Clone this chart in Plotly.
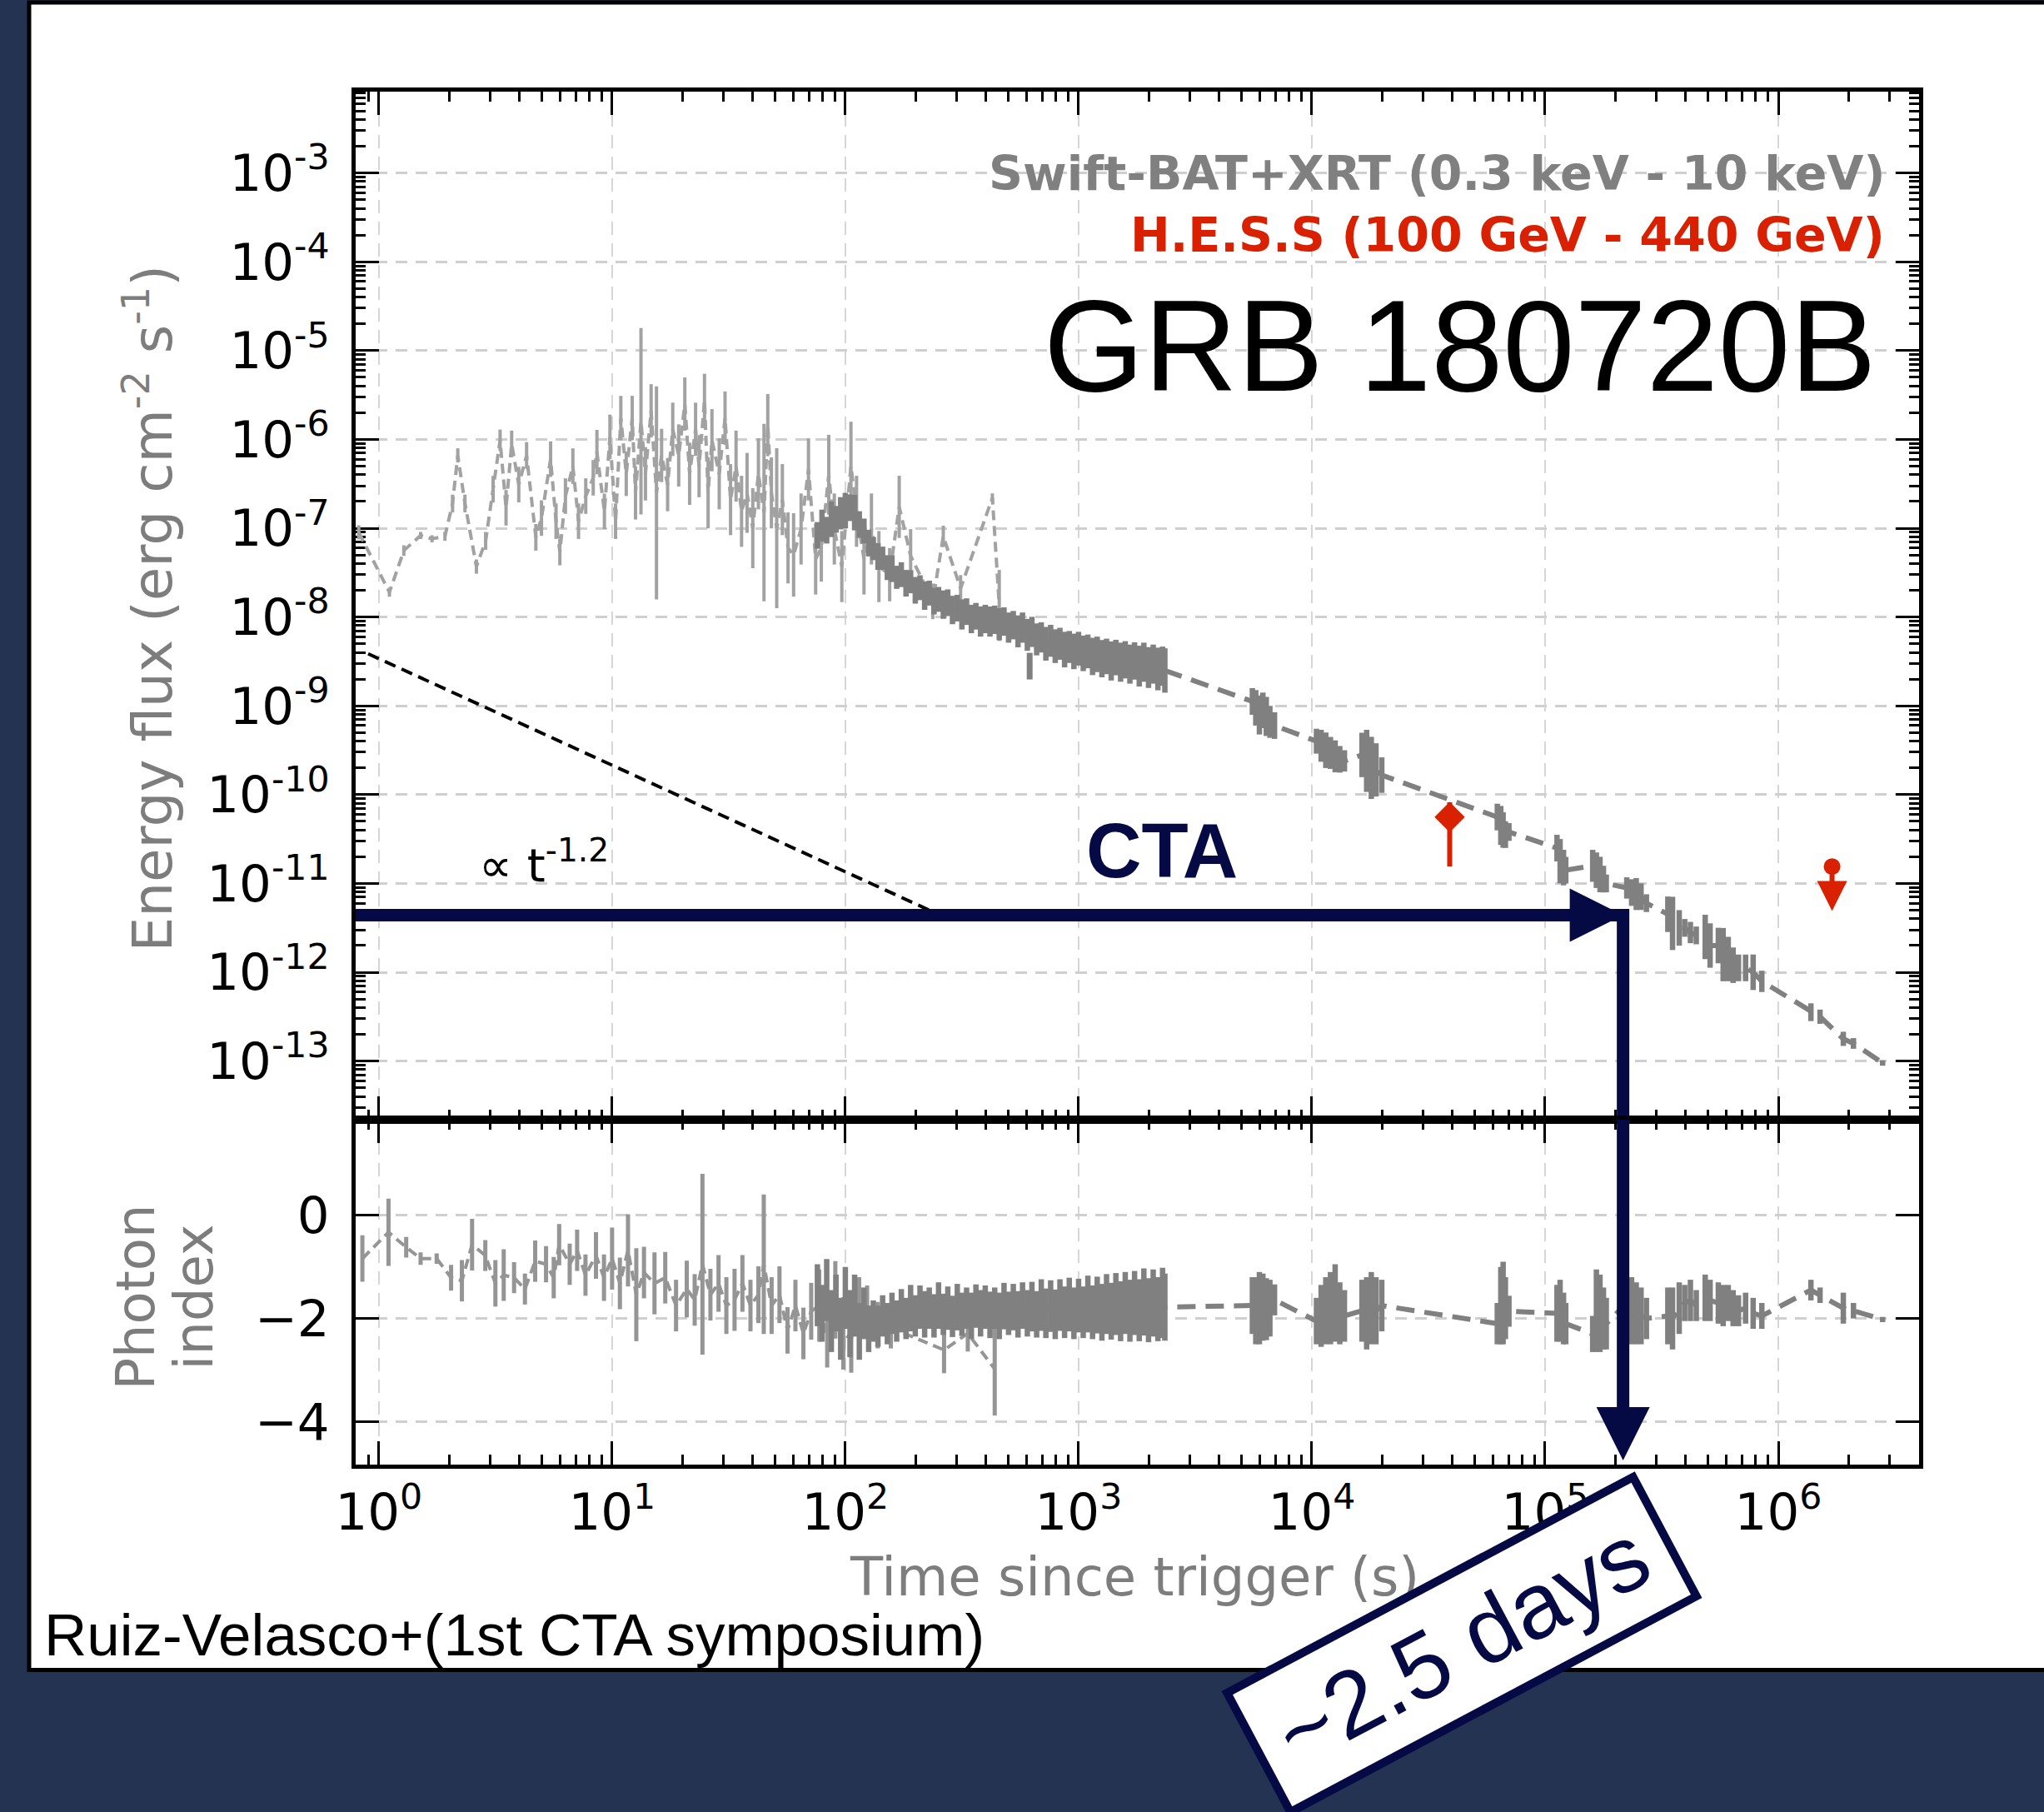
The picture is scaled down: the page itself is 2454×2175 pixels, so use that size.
import plotly.graph_objects as go

# ---------------- Swift-BAT (extrapolated to 0.3-10 keV) ----------------
bat_t = [0.82, 1.11, 1.28, 1.51, 1.69, 1.92, 2.07, 2.18, 2.34, 2.62,
         2.87, 3.09, 3.31, 3.51, 3.71, 3.98, 4.30, 4.71, 4.98, 5.45,
         5.75, 5.97, 6.31, 6.79, 7.18, 7.71, 8.30, 8.61, 9.27, 9.79,
         10.35, 10.9, 11.5, 12.2, 12.6, 13.3, 13.9, 14.7, 15.5, 16.3,
         17.3, 18.2, 19.3, 20.5, 21.5, 22.8, 23.6, 24.9, 25.8, 26.8,
         28.8, 30.5, 32.2, 34.0, 35.9, 37.9, 40.1, 42.4, 44.8, 46.5,
         48.2, 50.8, 53.7, 56.8, 60.0, 64.6, 69.5, 74.6, 78.9, 84.9,
         89.7, 96.6, 105.7, 111.7, 120.2, 129.4, 139.3, 154.9, 170.2, 190.5,
         237, 263, 312, 427, 457]
bat_flux = [9.0e-8, 1.9e-8, 5.6e-8, 8.3e-8, 7.6e-8, 8.1e-8, 1.9e-7, 6.6e-7, 1.9e-7, 3.7e-8,
            7.2e-8, 2.75e-7, 9.8e-7, 1.7e-7, 8.9e-7, 3.1e-7, 6.6e-7, 7.9e-8, 1.3e-7, 6.0e-7,
            1.2e-7, 5.4e-8, 2.3e-7, 5.0e-7, 1.2e-7, 2.3e-7, 3.7e-7, 7.2e-7, 1.55e-7, 1.07e-6,
            1.2e-7, 1.74e-6, 4.1e-7, 1.74e-6, 2.5e-7, 1.6e-6, 4.1e-7, 2.1e-6, 2.5e-7, 6.6e-7,
            3.1e-7, 1.3e-6, 6.6e-7, 2.5e-6, 4.1e-7, 1.3e-6, 5.0e-7, 2.75e-6, 2.5e-7, 9.8e-7,
            4.1e-7, 1.74e-6, 2.1e-7, 5.0e-7, 1.55e-7, 2.5e-7, 1.0e-7, 4.1e-7, 1.5e-7, 1.45e-6,
            2.5e-7, 1.0e-7, 2.1e-7, 6.0e-8, 5.0e-8, 9.8e-8, 4.6e-7, 4.5e-8, 6.0e-8, 4.0e-7,
            9.8e-8, 3.7e-8, 5.0e-7, 1.55e-7, 4.5e-8, 9.8e-8, 3.7e-8, 3.0e-8, 1.74e-7, 4.9e-8,
            1.5e-8, 8.1e-8, 2.1e-8, 2.2e-7, 1.35e-8]
bat_flux_err_dex = [0.08, 0.05, 0.06, 0.04, 0.04, 0.05, 0.10, 0.08, 0.10, 0.08,
                    0.10, 0.15, 0.12, 0.20, 0.15, 0.20, 0.15, 0.15, 0.20, 0.20,
                    0.20, 0.15, 0.20, 0.20, 0.20, 0.20, 0.20, 0.25, 0.20, 0.25,
                    0.20, 0.25, 0.25, 0.25, 0.30, 1.05, 0.30, 0.30, 1.20, 0.30,
                    0.30, 0.30, 0.35, 0.30, 0.35, 0.30, 0.35, 0.30, 0.40, 0.35,
                    0.40, 0.30, 0.40, 0.40, 0.40, 0.45, 0.45, 0.40, 1.00, 0.35,
                    0.40, 0.90, 0.40, 0.40, 0.47, 0.40, 0.35, 0.40, 0.38, 0.45,
                    0.40, 0.40, 0.50, 0.40, 0.40, 0.40, 0.40, 0.30, 0.35, 0.30,
                    0.20, 0.12, 0.15, 0.05, 0.40]

bat_index_t = [0.85, 1.10, 1.31, 1.51, 1.77, 2.04, 2.27, 2.51, 2.86, 3.16,
               3.43, 3.80, 4.23, 4.68, 5.21, 5.62, 5.93, 6.58, 7.08, 7.69,
               8.53, 9.23, 10.0, 10.8, 11.7, 12.7, 13.7, 15.2, 16.9, 18.8,
               20.9, 22.6, 24.4, 26.4, 28.6, 30.9, 33.5, 36.2, 39.2, 42.4,
               44.7, 48.3, 52.2, 56.5, 61.1, 66.1, 71.4, 77.3, 83.6, 90.6,
               98.0, 106, 114.6, 124, 137.7, 156.7, 265, 335, 437]
bat_index = [-0.84, -0.33, -0.62, -0.84, -0.84, -1.21, -1.27, -0.57, -0.78, -1.32,
             -1.16, -1.21, -1.43, -0.89, -0.95, -1.21, -0.57, -0.95, -0.68, -1.16,
             -0.78, -1.21, -0.84, -1.32, -0.68, -1.54, -1.11, -1.32, -1.21, -1.75,
             -1.43, -1.64, -0.95, -1.54, -1.32, -1.75, -1.64, -1.32, -1.75, -1.54,
             -0.95, -1.75, -1.54, -2.23, -1.75, -2.29, -1.86, -1.75, -2.40, -1.64,
             -2.29, -2.40, -1.75, -1.86, -2.13, -2.18, -2.61, -2.29, -2.98]
bat_index_err = [0.45, 0.65, 0.20, 0.12, 0.10, 0.25, 0.40, 0.50, 0.30, 0.45,
                 0.50, 0.30, 0.30, 0.40, 0.35, 0.40, 0.40, 0.40, 0.40, 0.40,
                 0.45, 0.45, 0.60, 0.50, 0.70, 0.90, 0.50, 0.60, 0.50, 0.50,
                 0.55, 0.50, 1.75, 0.50, 0.55, 0.55, 0.60, 0.55, 0.50, 0.55,
                 1.35, 0.55, 0.55, 0.45, 0.50, 0.50, 0.55, 0.70, 0.55, 0.75,
                 0.70, 0.65, 0.55, 0.50, 0.45, 0.40, 0.45, 0.35, 0.90]

# ---------------- Swift-XRT (0.3-10 keV) ----------------
xrt_t = [75.9, 79.4, 83.2, 87.1, 91.2, 95.5, 100, 104.7, 109.6, 114.8,
         120.2, 125.9, 131.8, 138, 144.5, 151.4, 158.5, 166, 173.8, 182,
         190.5, 199.5, 209, 218.8, 229, 240, 251, 263, 275, 288,
         302, 316, 331, 347, 363, 380, 398, 417, 437, 457,
         479, 501, 525, 550, 575, 603, 631, 661, 692, 724,
         759, 794, 832, 871, 912, 955, 1000, 1047, 1096, 1148,
         1202, 1259, 1318, 1380, 1445, 1514, 1585, 1660, 1738, 1820,
         1905, 1995, 2089, 2188, 2291, 2344,
         5560, 5750, 5960, 6170, 6380, 6610, 6920,
         10470, 10960, 11480, 12020, 12590, 13180, 13800,
         16410, 17180, 17990, 18840, 19950,
         62400, 64600, 66100, 67600, 70000,
         112500, 116000, 120000, 122700,
         160000, 166000, 172000, 178000, 183000,
         224000, 235000, 246000, 258000, 272000,
         336000, 352000, 376000,
         397000, 420000, 445000,
         486000, 510000,
         553000, 580000, 610000, 640000, 675000,
         724000, 780000, 850000,
         1380000, 1510000,
         1900000, 2100000,
         2800000]
xrt_flux = [8.3e-8, 1.07e-7, 9.5e-8, 1.26e-7, 1.26e-7, 1.48e-7, 1.58e-7, 1.7e-7, 1.5e-7, 1.10e-7,
            9.3e-8, 6.8e-8, 5.9e-8, 4.8e-8, 4.6e-8, 3.6e-8, 3.5e-8, 2.8e-8, 3.0e-8, 2.4e-8,
            2.5e-8, 2.0e-8, 2.14e-8, 1.74e-8, 1.86e-8, 1.51e-8, 1.58e-8, 1.38e-8, 1.45e-8, 1.20e-8,
            1.26e-8, 1.07e-8, 1.15e-8, 9.5e-9, 1.02e-8, 8.9e-9, 9.5e-9, 8.9e-9, 9.3e-9, 8.3e-9,
            8.9e-9, 7.6e-9, 8.1e-9, 6.9e-9, 7.6e-9, 6.3e-9, 6.8e-9, 5.6e-9, 5.9e-9, 5.0e-9,
            5.4e-9, 4.7e-9, 5.0e-9, 4.3e-9, 4.6e-9, 4.1e-9, 4.4e-9, 3.9e-9, 4.1e-9, 3.6e-9,
            3.8e-9, 3.4e-9, 3.6e-9, 3.2e-9, 3.5e-9, 3.1e-9, 3.3e-9, 2.95e-9, 3.2e-9, 2.8e-9,
            3.1e-9, 2.7e-9, 2.95e-9, 2.6e-9, 2.8e-9, 2.5e-9,
            1.12e-9, 9.5e-10, 7.9e-10, 8.9e-10, 7.6e-10, 6.6e-10, 6.0e-10,
            4.0e-10, 3.55e-10, 3.16e-10, 2.95e-10, 2.7e-10, 2.5e-10, 2.4e-10,
            2.8e-10, 2.4e-10, 2.0e-10, 1.9e-10, 1.66e-10,
            5.6e-11, 4.5e-11, 4.0e-11, 3.55e-11, 3.8e-11,
            2.5e-11, 1.78e-11, 1.51e-11, 1.41e-11,
            1.58e-11, 1.41e-11, 1.26e-11, 1.12e-11, 1.0e-11,
            8.9e-12, 7.9e-12, 7.6e-12, 7.1e-12, 6.0e-12,
            4.5e-12, 3.55e-12, 3.16e-12,
            3.16e-12, 2.8e-12, 2.6e-12,
            2.5e-12, 2.0e-12,
            2.0e-12, 1.58e-12, 1.41e-12, 1.2e-12, 1.12e-12,
            1.12e-12, 1.0e-12, 7.9e-13,
            3.55e-13, 3.16e-13,
            1.78e-13, 1.58e-13,
            9.5e-14]
xrt_flux_err_dex = [0.15, 0.18, 0.15, 0.20, 0.15, 0.18, 0.20, 0.15, 0.20, 0.15,
                    0.14, 0.15, 0.13, 0.15, 0.13, 0.14, 0.15, 0.13, 0.14, 0.15,
                    0.13, 0.15, 0.14, 0.16, 0.14, 0.15, 0.14, 0.16, 0.15, 0.16,
                    0.15, 0.17, 0.15, 0.16, 0.15, 0.17, 0.16, 0.17, 0.16, 0.18,
                    0.16, 0.17, 0.16, 0.18, 0.17, 0.18, 0.17, 0.18, 0.17, 0.19,
                    0.18, 0.19, 0.18, 0.20, 0.18, 0.20, 0.19, 0.20, 0.19, 0.21,
                    0.20, 0.21, 0.20, 0.22, 0.20, 0.22, 0.21, 0.22, 0.21, 0.23,
                    0.22, 0.23, 0.22, 0.24, 0.22, 0.25,
                    0.15, 0.20, 0.22, 0.20, 0.22, 0.18, 0.15,
                    0.14, 0.18, 0.20, 0.18, 0.18, 0.15, 0.12,
                    0.25, 0.35, 0.35, 0.30, 0.20,
                    0.15, 0.22, 0.20, 0.15, 0.10,
                    0.15, 0.25, 0.20, 0.15,
                    0.18, 0.20, 0.20, 0.15, 0.10,
                    0.12, 0.15, 0.18, 0.15, 0.10,
                    0.20, 0.30, 0.20,
                    0.10, 0.12, 0.10,
                    0.25, 0.25,
                    0.20, 0.30, 0.25, 0.20, 0.15,
                    0.15, 0.20, 0.12,
                    0.10, 0.08,
                    0.08, 0.06,
                    0.03]
xrt_index = [-1.55, -1.90, -1.45, -2.05, -1.70, -2.20, -1.60, -2.10, -1.75, -2.25,
             -1.90, -2.20, -2.05, -2.15, -1.95, -2.10, -1.90, -2.05, -1.85, -2.00,
             -1.80, -1.95, -1.78, -1.92, -1.80, -1.95, -1.75, -1.92, -1.80, -1.96,
             -1.78, -1.92, -1.80, -1.95, -1.76, -1.90, -1.78, -1.93, -1.80, -1.95,
             -1.76, -1.90, -1.78, -1.92, -1.75, -1.90, -1.77, -1.92, -1.74, -1.90,
             -1.76, -1.92, -1.74, -1.88, -1.73, -1.90, -1.75, -1.88, -1.72, -1.88,
             -1.74, -1.88, -1.72, -1.86, -1.72, -1.86, -1.70, -1.85, -1.70, -1.84,
             -1.68, -1.84, -1.70, -1.82, -1.70, -1.78,
             -1.75, -1.85, -1.80, -1.78, -1.82, -1.80, -1.64,
             -2.05, -1.95, -1.85, -1.80, -1.70, -1.90, -1.95,
             -1.85, -1.90, -1.80, -1.85, -1.75,
             -2.10, -1.75, -1.70, -1.80, -1.86,
             -1.90, -1.85, -2.00, -2.10,
             -2.30, -1.85, -1.90, -2.00, -2.10,
             -1.70, -1.85, -1.90, -1.95, -2.00,
             -1.95, -2.00, -1.80,
             -1.70, -1.65, -1.75,
             -1.60, -1.65,
             -1.70, -1.75, -1.70, -1.80, -1.85,
             -1.80, -1.90, -1.95,
             -1.45, -1.55,
             -1.80, -1.85,
             -2.02]
xrt_index_err = [0.60, 0.55, 0.60, 0.60, 0.55, 0.60, 0.60, 0.65, 0.60, 0.55,
                 0.50, 0.45, 0.40, 0.40, 0.40, 0.40, 0.40, 0.40, 0.42, 0.40,
                 0.45, 0.40, 0.42, 0.45, 0.40, 0.42, 0.45, 0.40, 0.42, 0.40,
                 0.45, 0.42, 0.40, 0.45, 0.42, 0.45, 0.42, 0.45, 0.40, 0.45,
                 0.45, 0.42, 0.45, 0.45, 0.45, 0.45, 0.48, 0.45, 0.50, 0.48,
                 0.50, 0.48, 0.50, 0.50, 0.52, 0.50, 0.52, 0.50, 0.55, 0.52,
                 0.55, 0.55, 0.58, 0.55, 0.60, 0.58, 0.60, 0.60, 0.62, 0.60,
                 0.65, 0.62, 0.65, 0.62, 0.68, 0.65,
                 0.55, 0.65, 0.70, 0.65, 0.60, 0.55, 0.30,
                 0.45, 0.60, 0.65, 0.70, 0.75, 0.60, 0.50,
                 0.60, 0.70, 0.70, 0.65, 0.50,
                 0.40, 0.75, 0.80, 0.60, 0.30,
                 0.55, 0.60, 0.50, 0.40,
                 0.35, 0.80, 0.75, 0.60, 0.50,
                 0.50, 0.65, 0.60, 0.55, 0.40,
                 0.55, 0.60, 0.50,
                 0.35, 0.40, 0.30,
                 0.45, 0.40,
                 0.40, 0.40, 0.35, 0.35, 0.30,
                 0.30, 0.30, 0.25,
                 0.20, 0.15,
                 0.30, 0.15,
                 0.05]
xrt_dip_t = [617]
xrt_dip_flux = [2.8e-9]
xrt_dip_err_dex = [0.15]

# ---------------- H.E.S.S. (100-440 GeV) ----------------
hess_t = [3.9e4]
hess_flux = [5.6e-11]
hess_err_up = [2.6e-11]
hess_err_down = [4.05e-11]
hess_ul_t = [1.7e6]
hess_ul_flux = [1.55e-11]

# ---------------- model and CTA reach ----------------
pl_norm = 3.4e-9          # flux at t = 1 s
pl_slope = -1.2
pl_t = [0.9, 240]
cta_flux = 4.4e-12
cta_days = 2.5

# ---------------- styling ----------------
W, H = 2454, 2175
X_OFF, X_SPAN = 17, 2437      # horizontal extent actually used by the page
NAVY = "#050a45"
RED = "#d92000"
BAT_GREY = "#a2a2a2"
BAT_IDX_GREY = "#959595"
XRT_GREY = "#808080"
TXT_GREY = "#7d7d7d"
GRID = "#cfcfcf"
FONT = "DejaVu Sans"
SANS = "Liberation Sans"


def fx(p):
    return (p - X_OFF) / X_SPAN


def fy(p):
    return 1 - p / H


def dex_err(vals, dex):
    up = [v * (10 ** d - 1) for v, d in zip(vals, dex)]
    dn = [v * (1 - 10 ** -d) for v, d in zip(vals, dex)]
    return up, dn


X_DOM = [fx(421), fx(2304)]
FLUX_DOM = [fy(1344), fy(110)]
IDX_DOM = [fy(1758), fy(1344)]

fig = go.Figure()

# Swift-BAT light curve
up, dn = dex_err(bat_flux, bat_flux_err_dex)
fig.add_trace(go.Scatter(
    x=bat_t, y=bat_flux, mode="lines", xaxis="x", yaxis="y",
    line=dict(color=BAT_GREY, width=4, dash="12px,7px"),
    error_y=dict(type="data", symmetric=False, array=up, arrayminus=dn,
                 color=BAT_GREY, thickness=4, width=0)))

# Swift-XRT light curve
up, dn = dex_err(xrt_flux, xrt_flux_err_dex)
fig.add_trace(go.Scatter(
    x=xrt_t, y=xrt_flux, mode="lines", xaxis="x", yaxis="y",
    line=dict(color=XRT_GREY, width=6, dash="22px,12px"),
    error_y=dict(type="data", symmetric=False, array=up, arrayminus=dn,
                 color=XRT_GREY, thickness=6.5, width=0)))
up, dn = dex_err(xrt_dip_flux, xrt_dip_err_dex)
fig.add_trace(go.Scatter(
    x=xrt_dip_t, y=xrt_dip_flux, mode="markers", xaxis="x", yaxis="y",
    marker=dict(size=6, color=XRT_GREY),
    error_y=dict(type="data", symmetric=False, array=up, arrayminus=dn,
                 color=XRT_GREY, thickness=7, width=0)))

# t^-1.2 decay
fig.add_trace(go.Scatter(
    x=pl_t, y=[pl_norm * t ** pl_slope for t in pl_t], mode="lines",
    xaxis="x", yaxis="y", line=dict(color="black", width=4, dash="14px,8px")))

# H.E.S.S. detection and upper limit
fig.add_trace(go.Scatter(
    x=hess_t, y=hess_flux, mode="markers", xaxis="x", yaxis="y",
    marker=dict(symbol="diamond", size=28, color=RED),
    error_y=dict(type="data", symmetric=False, array=hess_err_up,
                 arrayminus=hess_err_down, color=RED, thickness=6, width=0)))
ul_drop = 10 ** -0.5
fig.add_trace(go.Scatter(
    x=hess_ul_t, y=hess_ul_flux, mode="markers", xaxis="x", yaxis="y",
    marker=dict(symbol="circle", size=20, color=RED),
    error_y=dict(type="data", symmetric=False, array=[0],
                 arrayminus=[f * (1 - ul_drop) * 0.8 for f in hess_ul_flux],
                 color=RED, thickness=6, width=0)))
fig.add_trace(go.Scatter(
    x=hess_ul_t, y=[f * ul_drop for f in hess_ul_flux], mode="markers",
    xaxis="x", yaxis="y",
    marker=dict(symbol="arrow-down", size=36, color=RED, line=dict(width=0))))

# photon index panel
fig.add_trace(go.Scatter(
    x=bat_index_t, y=bat_index, mode="lines", xaxis="x2", yaxis="y2",
    line=dict(color=BAT_IDX_GREY, width=4, dash="12px,7px"),
    error_y=dict(type="data", array=bat_index_err, color=BAT_IDX_GREY,
                 thickness=5, width=0)))
fig.add_trace(go.Scatter(
    x=xrt_t, y=xrt_index, mode="lines", xaxis="x2", yaxis="y2",
    line=dict(color=XRT_GREY, width=6, dash="22px,12px"),
    error_y=dict(type="data", array=xrt_index_err, color=XRT_GREY,
                 thickness=6.5, width=0)))

# CTA reach arrows
t_cta = cta_days * 86400
fig.add_trace(go.Scatter(
    x=[0.5, t_cta, t_cta], y=[cta_flux, cta_flux, 1e-16], mode="lines",
    xaxis="x", yaxis="y", line=dict(color=NAVY, width=15)))
fig.add_trace(go.Scatter(
    x=[t_cta], y=[cta_flux], mode="markers", xaxis="x", yaxis="y",
    marker=dict(symbol="arrow-right", size=64, color=NAVY, line=dict(width=0))))
fig.add_trace(go.Scatter(
    x=[t_cta, t_cta], y=[3, -4.3], mode="lines", xaxis="x2", yaxis="y2",
    line=dict(color=NAVY, width=15)))
fig.add_trace(go.Scatter(
    x=[t_cta], y=[-4.75], mode="markers", xaxis="x2", yaxis="y2",
    marker=dict(symbol="arrow-down", size=64, color=NAVY, line=dict(width=0)),
    cliponaxis=False))

# ---------------- axes ----------------
decades_x = [10 ** k for k in range(0, 7)]
minor_x = [d * 10 ** k for k in range(-1, 7) for d in range(2, 10)]
minor_x = [v for v in minor_x if 0.8 <= v <= 4.0e6]
decades_y = [10 ** -k for k in range(3, 14)]
minor_y = [d * 10 ** -k for k in range(3, 15) for d in range(2, 10)]

common = dict(showline=True, linewidth=5, linecolor="black", mirror="allticks",
              ticks="inside", ticklen=28, tickwidth=3, tickcolor="black",
              showgrid=True, gridcolor=GRID, gridwidth=3, zeroline=False,
              layer="below traces",
              tickfont=dict(family=FONT, size=61, color="black"))

x_common = dict(common, type="log", range=[-0.1, 6.605], domain=X_DOM,
                tickmode="array", tickvals=decades_x,
                griddash="16px,10px", gridwidth=2, gridcolor="#d6d6d6",
                minor=dict(tickvals=minor_x, ticks="inside", ticklen=12,
                           tickwidth=2.5, tickcolor="black", showgrid=False))

layout_axes = dict(
    xaxis=dict(x_common, anchor="y", showticklabels=False),
    xaxis2=dict(x_common, anchor="y2", matches="x", showticklabels=True,
                ticktext=[f"10<sup>{k}</sup>" for k in range(0, 7)],
                ticklabelstandoff=0),
    yaxis=dict(common, type="log", range=[-13.66, -2.084], domain=FLUX_DOM,
               anchor="x", tickmode="array", tickvals=decades_y,
               ticktext=[f"10<sup>-{k}</sup>" for k in range(3, 14)],
               griddash="14px,10px", ticklabelstandoff=14,
               minor=dict(tickvals=minor_y, ticks="inside", ticklen=12,
                          tickwidth=2.5, tickcolor="black", showgrid=False)),
    yaxis2=dict(common, range=[-4.83, 1.85], domain=IDX_DOM, anchor="x2",
                tickmode="array", tickvals=[0, -2, -4],
                ticktext=["0", "\u22122", "\u22124"], griddash="14px,10px",
                ticklabelstandoff=14),
)

# ---------------- texts ----------------
annotations = [
    dict(text="<b>Swift-BAT+XRT (0.3 keV - 10 keV)</b>", x=fx(2264), y=fy(208),
         xanchor="right", yanchor="middle",
         font=dict(family=FONT, size=57, color=XRT_GREY)),
    dict(text="<b>H.E.S.S (100 GeV - 440 GeV)</b>", x=fx(2264), y=fy(282),
         xanchor="right", yanchor="middle",
         font=dict(family=FONT, size=57, color=RED)),
    dict(text="GRB 180720B", x=fx(1751), y=fy(415), xanchor="center",
         yanchor="middle", font=dict(family=SANS, size=155, color="black")),
    dict(text="<b>CTA</b>", x=fx(1392), y=fy(1021), xanchor="center",
         yanchor="middle", font=dict(family=SANS, size=92, color=NAVY)),
    dict(text="\u221d t<sup>-1.2</sup>", x=fx(568), y=fy(1034), xanchor="left",
         yanchor="middle", font=dict(family=FONT, size=56, color="black")),
    dict(text="Energy flux (erg cm<sup>-2</sup> s<sup>-1</sup>)", x=fx(172),
         y=fy(730), textangle=-90, xanchor="center", yanchor="middle",
         font=dict(family=FONT, size=66, color=TXT_GREY)),
    dict(text="Photon", x=fx(156), y=fy(1557), textangle=-90, xanchor="center",
         yanchor="middle", font=dict(family=FONT, size=64, color=TXT_GREY)),
    dict(text="index", x=fx(227), y=fy(1557), textangle=-90, xanchor="center",
         yanchor="middle", font=dict(family=FONT, size=64, color=TXT_GREY)),
    dict(text="Time since trigger (s)", x=fx(1359), y=fy(1893), xanchor="center",
         yanchor="middle", font=dict(family=FONT, size=64, color=TXT_GREY)),
    dict(text="Ruiz-Velasco+(1st CTA symposium)", x=fx(44), y=fy(1962),
         xanchor="left", yanchor="middle",
         font=dict(family=SANS, size=71, color="black")),
    dict(text="~2.5 days", x=fx(1753), y=fy(1974), xanchor="center",
         yanchor="middle", textangle=-28, width=542, height=152,
         bgcolor="white", bordercolor=NAVY, borderwidth=10, borderpad=0,
         font=dict(family=SANS, size=112, color=NAVY)),
]
for a in annotations:
    a.update(xref="paper", yref="paper", showarrow=False)

shapes = [
    dict(type="rect", xref="paper", yref="paper", layer="below",
         x0=fx(28), x1=fx(2470), y0=fy(2004.5), y1=fy(3),
         fillcolor="white", line=dict(color="black", width=5)),
]

fig.update_layout(
    width=W, height=H, autosize=False,
    margin=dict(l=0, r=0, t=0, b=0, pad=0),
    paper_bgcolor="#243352", plot_bgcolor="rgba(0,0,0,0)",
    showlegend=False, annotations=annotations, shapes=shapes,
    font=dict(family=FONT),
    **layout_axes,
)

fig.write_html("out.html")
